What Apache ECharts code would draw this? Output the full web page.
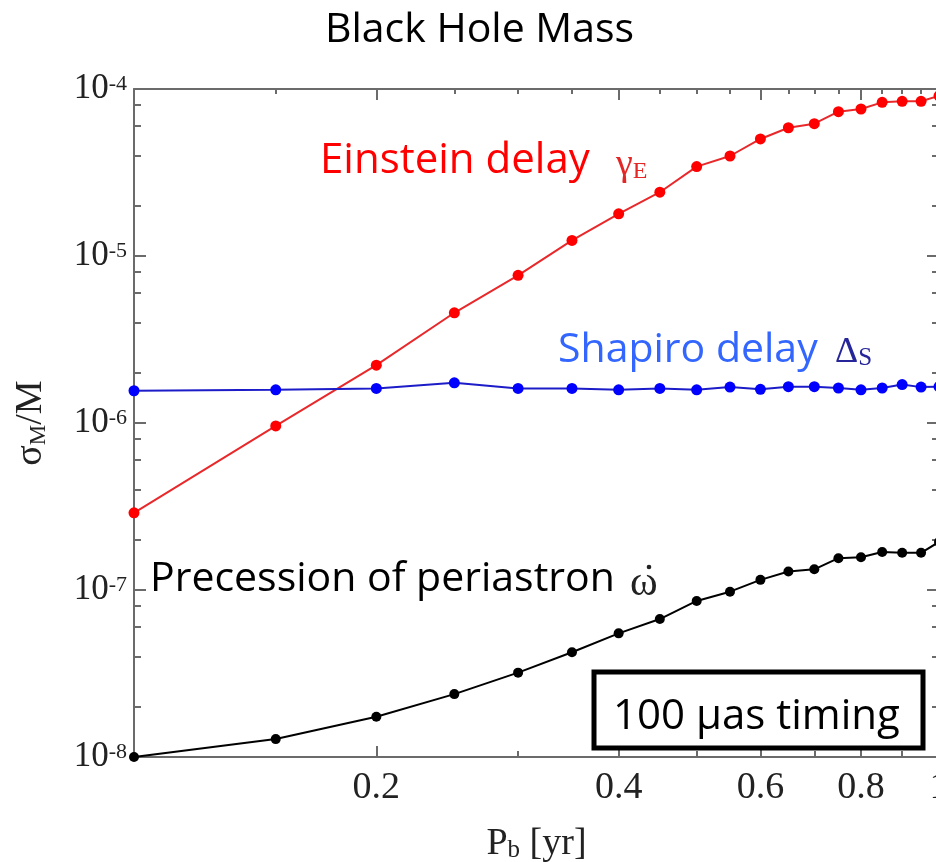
<!DOCTYPE html>
<html>
<head>
<meta charset="utf-8">
<title>Black Hole Mass</title>
<script src="https://cdn.jsdelivr.net/npm/echarts@6/dist/echarts.min.js"></script>
<style>
html, body { margin: 0; padding: 0; background: #fff; }
#chart { width: 936px; height: 862px; }
</style>
</head>
<body>
<div id="chart"></div>
<script>
// orbital period P_b [yr]
const periods = [0.1, 0.15, 0.2, 0.25, 0.3, 0.35, 0.4, 0.45, 0.5, 0.55, 0.6, 0.65, 0.7, 0.75, 0.8, 0.85, 0.9, 0.95, 1.0];
// sigma_M / M for each effect
const einstein = [2.9e-7, 9.6e-7, 2.22e-6, 4.57e-6, 7.66e-6, 1.24e-5, 1.79e-5, 2.41e-5, 3.43e-5, 3.97e-5, 5.02e-5, 5.86e-5, 6.2e-5, 7.31e-5, 7.59e-5, 8.32e-5, 8.44e-5, 8.44e-5, 9.1e-5];
const shapiro = [1.56e-6, 1.58e-6, 1.61e-6, 1.74e-6, 1.61e-6, 1.61e-6, 1.58e-6, 1.61e-6, 1.58e-6, 1.64e-6, 1.59e-6, 1.65e-6, 1.65e-6, 1.62e-6, 1.58e-6, 1.62e-6, 1.70e-6, 1.64e-6, 1.65e-6];
const precession = [1.0e-8, 1.28e-8, 1.74e-8, 2.38e-8, 3.2e-8, 4.24e-8, 5.5e-8, 6.7e-8, 8.6e-8, 9.77e-8, 1.15e-7, 1.29e-7, 1.33e-7, 1.55e-7, 1.57e-7, 1.69e-7, 1.67e-7, 1.67e-7, 1.94e-7];

// tick positions
const xMajorTicks = [0.2, 0.4, 0.6, 0.8, 1];
const xMinorBottom = [0.3, 0.5, 0.7, 0.9];
const xMinorTop = [0.15, 0.25, 0.3, 0.35, 0.45, 0.5, 0.55, 0.65, 0.7, 0.75, 0.85, 0.9, 0.95];
const yMajorTicks = [1e-8, 1e-7, 1e-6, 1e-5, 1e-4];
const yMinorTicks = [2e-8, 4e-8, 6e-8, 8e-8, 2e-7, 4e-7, 6e-7, 8e-7, 2e-6, 4e-6, 6e-6, 8e-6, 2e-5, 4e-5, 6e-5, 8e-5];

const SERIF = "'Liberation Serif', 'DejaVu Serif', serif";
const SANS = "'Open Sans', 'Noto Sans', sans-serif";
const frame = { color: '#6b6b6b', width: 2 };

const pair = (xs, ys) => xs.map((x, i) => [x, ys[i]]);

function xAxisDef(position, ticks, len, opts) {
    return Object.assign({
        type: 'log', min: 0.1, max: 1, position: position,
        axisLine: { show: false, onZero: false, lineStyle: frame },
        axisTick: { show: true, inside: true, length: len, customValues: ticks, lineStyle: frame },
        axisLabel: { show: false },
        splitLine: { show: false }
    }, opts || {});
}
function yAxisDef(position, ticks, len, opts) {
    return Object.assign({
        type: 'log', min: 1e-8, max: 1e-4, position: position,
        axisLine: { show: false, onZero: false, lineStyle: frame },
        axisTick: { show: true, inside: true, length: len, customValues: ticks, lineStyle: frame },
        axisLabel: { show: false },
        splitLine: { show: false }
    }, opts || {});
}

function lineSeries(name, ys, color, lineColor, size) {
    return {
        name: name, type: 'line', xAxisIndex: 0, yAxisIndex: 0,
        data: pair(periods, ys),
        symbol: 'circle', symbolSize: size,
        itemStyle: { color: color },
        lineStyle: { color: lineColor, width: 2 },
        z: 3
    };
}

const chart = echarts.init(document.getElementById('chart'));
chart.setOption({
    animation: false,
    backgroundColor: '#fff',
    title: {
        text: 'Black Hole Mass', left: 320, top: 5,
        textStyle: { fontFamily: SANS, fontWeight: 'normal', fontSize: 41, color: '#000' }
    },
    grid: { left: 134, right: -3, top: 89, bottom: 105, containLabel: false, outerBoundsMode: 'none' },
    xAxis: [
        xAxisDef('bottom', xMajorTicks, 11, {
            axisLine: { show: true, onZero: false, lineStyle: frame },
            axisLabel: {
                show: true, customValues: xMajorTicks, margin: 12,
                fontFamily: SERIF, fontSize: 38, color: '#222',
                formatter: v => String(+v.toFixed(1))
            },
            name: '{n|P}{sub|b}{n| [yr]}', nameLocation: 'middle', nameGap: 68,
            nameTextStyle: {
                rich: {
                    n: { fontFamily: SERIF, fontSize: 38, color: '#222' },
                    sub: { fontFamily: SERIF, fontSize: 25, color: '#222', verticalAlign: 'bottom' }
                }
            }
        }),
        xAxisDef('bottom', xMinorBottom, 6),
        xAxisDef('top', xMajorTicks, 11, { axisLine: { show: true, onZero: false, lineStyle: frame } }),
        xAxisDef('top', xMinorTop, 5)
    ],
    yAxis: [
        yAxisDef('left', yMajorTicks, 12, {
            axisLine: { show: true, onZero: false, lineStyle: frame },
            axisLabel: {
                show: true, customValues: yMajorTicks, margin: 7,
                formatter: v => '{b|10}{s|' + Math.round(Math.log10(v)) + '}',
                rich: {
                    b: { fontFamily: SERIF, fontSize: 35, lineHeight: 32, color: '#222' },
                    s: { fontFamily: SERIF, fontSize: 22, lineHeight: 20, color: '#222', verticalAlign: 'top' }
                }
            },
            name: '{n|σ}{sub|M}{n|/M}', nameLocation: 'middle', nameGap: 84,
            nameTextStyle: {
                rich: {
                    n: { fontFamily: SERIF, fontSize: 38, color: '#222' },
                    sub: { fontFamily: SERIF, fontSize: 23, color: '#222', verticalAlign: 'bottom' }
                }
            }
        }),
        yAxisDef('left', yMinorTicks, 7),
        yAxisDef('right', yMajorTicks, 12, { axisLine: { show: true, onZero: false, lineStyle: frame } }),
        yAxisDef('right', yMinorTicks, 7)
    ],
    series: [
        lineSeries('Einstein delay', einstein, '#ff0000', '#e8282a', 11),
        lineSeries('Shapiro delay', shapiro, '#0000ff', '#1c1cc8', 11),
        lineSeries('Precession of periastron', precession, '#000000', '#000000', 10)
    ],
    graphic: [
        { type: 'text', x: 320, y: 161, z: 10, style: { text: 'Einstein delay', font: '42px ' + SANS, fill: '#ff0000', verticalAlign: 'middle' } },
        { type: 'text', x: 616, y: 165, z: 10, style: { text: '{g|γ}{e|E}', verticalAlign: 'middle',
            rich: { g: { font: '38px ' + SERIF, fill: '#e32626' }, e: { font: '24px ' + SERIF, fill: '#e32626', verticalAlign: 'bottom' } } } },
        { type: 'text', x: 558, y: 350, z: 10, style: { text: 'Shapiro delay', font: '41px ' + SANS, fill: '#3366ff', verticalAlign: 'middle' } },
        { type: 'text', x: 835, y: 353, z: 10, style: { text: '{g|Δ}{e|S}', verticalAlign: 'middle',
            rich: { g: { font: '36px ' + SERIF, fill: '#26269a' }, e: { font: '25px ' + SERIF, fill: '#26269a', verticalAlign: 'bottom' } } } },
        { type: 'text', x: 150, y: 579, z: 10, style: { text: 'Precession of periastron', font: '41px ' + SANS, fill: '#000', verticalAlign: 'middle' } },
        { type: 'text', x: 630, y: 584, z: 10, style: { text: 'ω', font: '42px ' + SERIF, fill: '#222', verticalAlign: 'middle' } },
        { type: 'circle', z: 10, shape: { cx: 649, cy: 567, r: 2.3 }, style: { fill: '#222' } },
        { type: 'rect', z: 10, shape: { x: 594, y: 672, width: 329, height: 76 }, style: { fill: '#fff', stroke: '#000', lineWidth: 5 } },
        { type: 'text', x: 613, y: 717, z: 11, style: { text: '100 μas timing', font: '42px ' + SANS, fill: '#000', verticalAlign: 'middle' } }
    ]
});
</script>
</body>
</html>
